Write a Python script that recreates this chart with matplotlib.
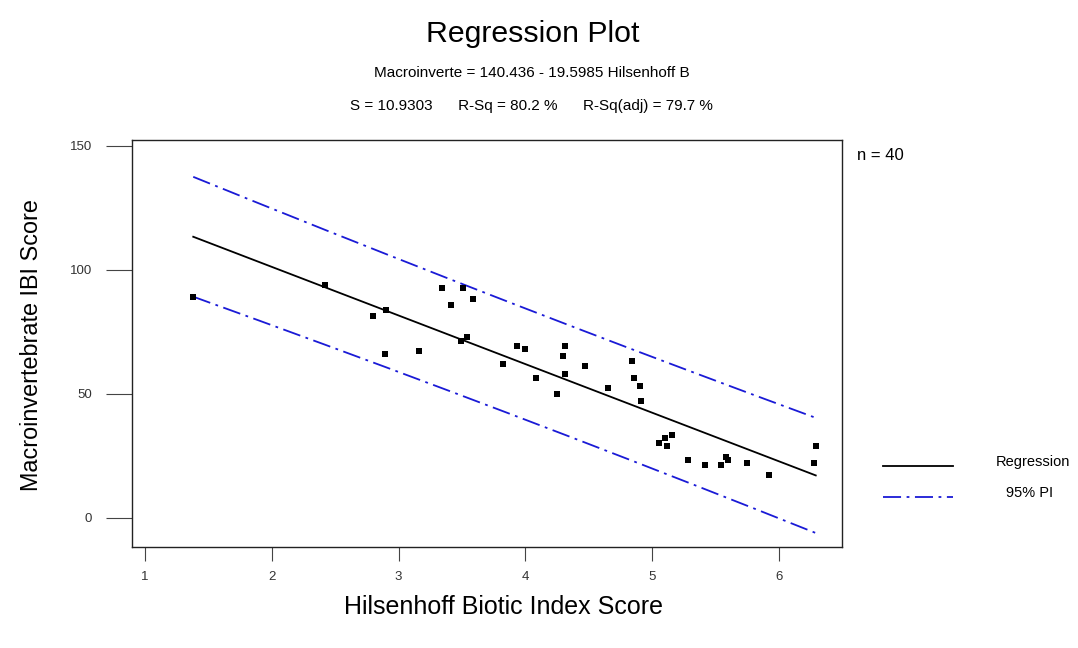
import numpy as np
import matplotlib
matplotlib.use("Agg")
import matplotlib.pyplot as plt
from matplotlib.lines import Line2D

plt.rcParams['font.family'] = ['Liberation Sans', 'DejaVu Sans']
plt.rcParams['lines.scale_dashes'] = False

# Hilsenhoff Biotic Index vs Macroinvertebrate IBI score, 40 sites
hbi = [1.38, 2.42, 2.42, 2.80, 2.90, 2.89, 3.16, 3.34, 3.41, 3.51,
       3.49, 3.54, 3.59, 3.82, 3.93, 4.00, 4.08, 4.25, 4.31, 4.30,
       4.31, 4.47, 4.65, 4.84, 4.86, 4.90, 4.91, 5.05, 5.10, 5.12,
       5.16, 5.28, 5.42, 5.54, 5.58, 5.60, 5.75, 5.92, 6.28, 6.29]
ibi = [89.1, 94.0, 94.0, 81.5, 83.9, 66.1, 67.3, 92.7, 85.9, 92.7,
       71.4, 73.0, 88.3, 62.1, 69.4, 68.1, 56.5, 50.0, 69.4, 65.3,
       58.1, 61.3, 52.4, 63.3, 56.5, 53.2, 47.2, 30.2, 32.3, 29.0,
       33.5, 23.4, 21.2, 21.2, 24.5, 23.4, 22.3, 17.5, 22.3, 29.2]

# fitted model as reported
b0, b1 = 140.436, -19.5985
s_err = 10.9303
r_sq, r_sq_adj = 80.2, 79.7
t_crit = 2.0244  # t(0.975, 38)

x = np.array(hbi)
n = len(x)
xs = np.linspace(x.min(), x.max(), 200)
fit = b0 + b1 * xs
sxx = np.sum((x - x.mean()) ** 2)
half = t_crit * s_err * np.sqrt(1 + 1 / n + (xs - x.mean()) ** 2 / sxx)

W, H = 1078, 648
fig = plt.figure(figsize=(W / 100, H / 100), dpi=100)
ax = fig.add_axes([132 / W, 1 - 547 / H, (842 - 132) / W, (547 - 140) / H])

pi_style = dict(color='#1a1ad6', lw=1.3, dashes=(13, 4, 2, 4))
ax.plot(xs, fit, color='black', lw=1.3)
ax.plot(xs, fit + half, **pi_style)
ax.plot(xs, fit - half, **pi_style)
ax.plot(hbi, ibi, 's', color='black', ms=4.6, mew=0)

ax.set_xlim(0.897, 6.497)
ax.set_ylim(-11.7, 152.4)
ax.set_xticks([1, 2, 3, 4, 5, 6])
ax.set_yticks([0, 50, 100, 150])
ax.tick_params(axis='y', length=19, width=0.8, color='#444', pad=10,
               labelsize=9.5, labelcolor='#333')
ax.tick_params(axis='x', length=10, width=0.8, color='#444', pad=7,
               labelsize=9.5, labelcolor='#333')
for sp in ax.spines.values():
    sp.set_linewidth(1.0)
    sp.set_color('#222')

fig.text(504 / W, 1 - 607 / H, 'Hilsenhoff Biotic Index Score',
         ha='center', va='center', fontsize=18)
fig.text(32 / W, 1 - 345 / H, 'Macroinvertebrate IBI Score',
         ha='center', va='center', rotation=90, fontsize=16.8)

fig.text(533 / W, 1 - 34 / H, 'Regression Plot', ha='center',
         va='center', fontsize=21.8)
fig.text(532 / W, 1 - 73 / H,
         'Macroinverte = %.3f - %.4f Hilsenhoff B' % (b0, -b1),
         ha='center', va='center', fontsize=11)
fig.text(531 / W, 1 - 106 / H,
         'S = %.4f      R-Sq = %.1f %%      R-Sq(adj) = %.1f %%'
         % (s_err, r_sq, r_sq_adj),
         ha='center', va='center', fontsize=11)
fig.text(857 / W, 1 - 156 / H, 'n = %d' % n, ha='left', va='center',
         fontsize=12)

# legend drawn beside the axes
fig.add_artist(Line2D([883 / W, 953 / W], [1 - 466 / H] * 2,
                      color='black', lw=1.3))
fig.add_artist(Line2D([883 / W, 953 / W], [1 - 497 / H] * 2, **pi_style))
fig.text(1033 / W, 1 - 462 / H, 'Regression', ha='center', va='center',
         fontsize=10.5)
fig.text(1030 / W, 1 - 493 / H, '95% PI', ha='center', va='center',
         fontsize=10.5)

fig.savefig('out.png', dpi=100, facecolor='white')
